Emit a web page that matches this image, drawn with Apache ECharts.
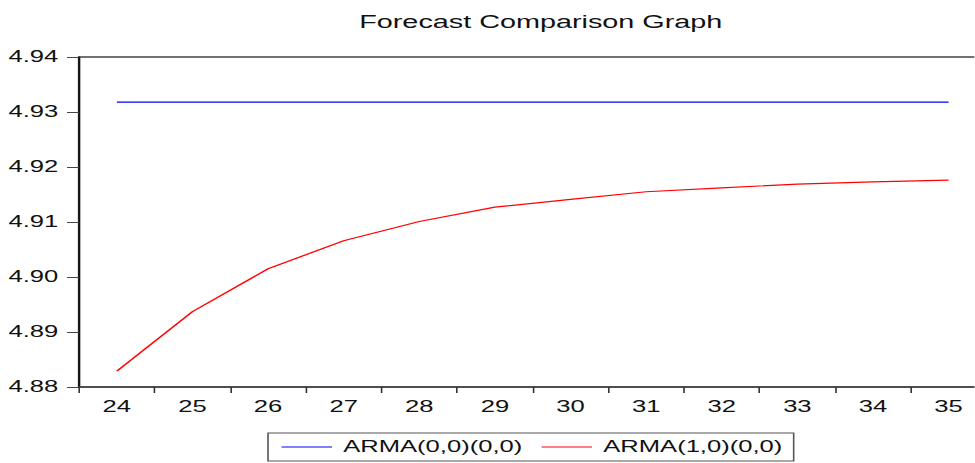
<!DOCTYPE html>
<html>
<head>
<meta charset="utf-8">
<script src="https://cdn.jsdelivr.net/npm/echarts@6/dist/echarts.min.js"></script>
<style>
html, body { margin: 0; padding: 0; background: #fff; overflow: hidden; }
#wrap { width: 975px; height: 463px; overflow: hidden; }
/* the source graph is stretched sideways, so the chart is drawn narrow and widened */
#main { width: 609.375px; height: 463px; transform: scaleX(1.6); transform-origin: 0 0; }
</style>
</head>
<body>
<div id="wrap"><div id="main"></div></div>
<script>
var periods = ['24', '25', '26', '27', '28', '29', '30', '31', '32', '33', '34', '35'];
var arma00 = [4.9318, 4.9318, 4.9318, 4.9318, 4.9318, 4.9318, 4.9318, 4.9318, 4.9318, 4.9318, 4.9318, 4.9318];
var arma10 = [4.8829, 4.8937, 4.9015, 4.9066, 4.9101, 4.9127, 4.9141, 4.9155, 4.9162, 4.9169, 4.9173, 4.9176];
var seriesNames = ['ARMA(0,0)(0,0)', 'ARMA(1,0)(0,0)'];

var font = 'Liberation Sans, Arial, sans-serif';
var chart = echarts.init(document.getElementById('main'), null, { renderer: 'svg' });

var option = {
    animation: false,
    title: {
        text: 'Forecast Comparison Graph',
        left: 219.5,
        top: 8,
        textStyle: { fontFamily: font, fontSize: 18, fontWeight: 'normal', color: '#111' }
    },
    legend: {
        data: seriesNames,
        left: 167.5,
        top: 433,
        padding: [6, 7, 6, 8.5],
        icon: 'rect',
        itemWidth: 31.5,
        itemHeight: 1.2,
        itemGap: 12,
        borderColor: '#555',
        borderWidth: 1,
        textStyle: { fontFamily: font, fontSize: 16, color: '#111', padding: [0, 0, 0, 2] }
    },
    grid: {
        left: 49.4,
        right: -7.5,
        top: 57,
        bottom: 76,
        outerBoundsMode: 'none',
        show: true,
        borderColor: '#444',
        borderWidth: 1.5
    },
    xAxis: {
        type: 'category',
        data: periods,
        boundaryGap: true,
        axisLine: { lineStyle: { color: '#444', width: 1.5 } },
        axisTick: { show: true, length: 6, lineStyle: { color: '#333' } },
        axisLabel: { fontFamily: font, fontSize: 16, color: '#111', margin: 12 },
        splitLine: { show: false }
    },
    yAxis: {
        type: 'value',
        min: 4.88,
        max: 4.94,
        interval: 0.01,
        axisLine: { show: true, lineStyle: { color: '#111', width: 1.2 } },
        axisTick: { show: true, length: 7.5, lineStyle: { color: '#444' } },
        axisLabel: {
            fontFamily: font, fontSize: 16, color: '#111', margin: 13,
            padding: [0, 0, 6, 0],
            formatter: function (v) { return v.toFixed(2); }
        },
        splitLine: { show: false }
    },
    series: [
        {
            name: seriesNames[0],
            type: 'line',
            data: arma00,
            symbol: 'none',
            lineStyle: { color: '#0000ff', width: 1.2 },
            itemStyle: { color: '#0000ff' }
        },
        {
            name: seriesNames[1],
            type: 'line',
            data: arma10,
            symbol: 'none',
            lineStyle: { color: '#ff0000', width: 1.2 },
            itemStyle: { color: '#ff0000' }
        }
    ]
};
chart.setOption(option);
</script>
</body>
</html>
